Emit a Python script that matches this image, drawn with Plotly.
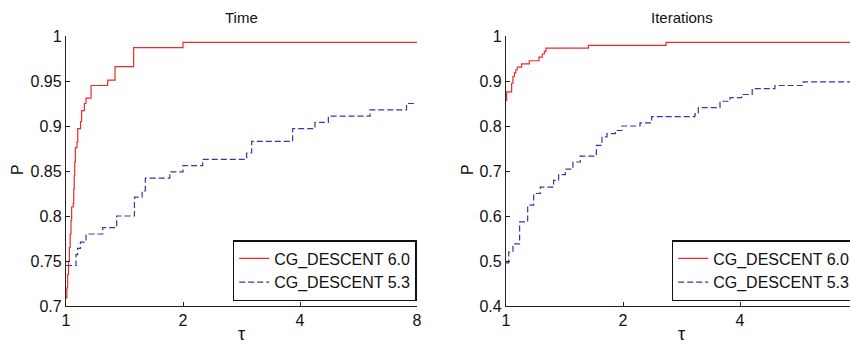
import math
import plotly.graph_objects as go

# ---- data ----
time_tau_60 = [1, 1.005, 1.01, 1.015, 1.02, 1.025, 1.03, 1.034, 1.044, 1.047, 1.05, 1.053, 1.057, 1.067,
               1.072, 1.09, 1.097, 1.115, 1.126, 1.16, 1.28, 1.337, 1.493, 2.0, 8]
time_p_60 = [0.709, 0.72, 0.735, 0.75, 0.765, 0.78, 0.795, 0.81, 0.814, 0.83, 0.845, 0.86, 0.876, 0.882,
             0.897, 0.905, 0.917, 0.925, 0.931, 0.945, 0.951, 0.966, 0.987, 0.993, 0.993]

time_tau_53 = [1, 1.061, 1.071, 1.089, 1.126, 1.243, 1.35, 1.50, 1.57, 1.60, 1.85, 2.0, 2.247, 2.916,
               3.004, 3.83, 4.371, 4.731, 6.056, 7.52, 8]
time_p_53 = [0.745, 0.757, 0.764, 0.771, 0.780, 0.787, 0.800, 0.821, 0.828, 0.842, 0.849, 0.856, 0.863,
             0.870, 0.883, 0.897, 0.904, 0.911, 0.918, 0.925, 0.925]

iter_tau_60 = [1, 1.004, 1.034, 1.042, 1.051, 1.06, 1.069, 1.097, 1.148, 1.216, 1.24, 1.255, 1.267,
               1.629, 2.581, 8]
iter_p_60 = [0.857, 0.876, 0.895, 0.91, 0.918, 0.925, 0.931, 0.938, 0.945, 0.953, 0.96, 0.966, 0.973,
             0.979, 0.986, 0.986]

iter_tau_53 = [1, 1.016, 1.042, 1.084, 1.137, 1.178, 1.225, 1.326, 1.366, 1.421, 1.487, 1.553, 1.708,
               1.766, 1.819, 1.911, 1.988, 2.212, 2.37, 3.063, 3.125, 3.553, 3.77, 4.04, 4.30, 4.92,
               5.82, 8]
iter_p_53 = [0.496, 0.52, 0.538, 0.587, 0.624, 0.65, 0.664, 0.679, 0.692, 0.704, 0.720, 0.733, 0.757,
             0.776, 0.783, 0.79, 0.80, 0.807, 0.821, 0.827, 0.841, 0.855, 0.863, 0.870, 0.883, 0.890,
             0.898, 0.898]

names = ["CG_DESCENT 6.0", "CG_DESCENT 5.3"]
titles = ["Time", "Iterations"]
x_ticks = [1, 2, 4, 8]

RED = "#f02828"
BLUE = "#2d3aa8"
FONT = "Liberation Sans, Arial, sans-serif"
W, H = 850, 343

fig = go.Figure()

def add(x, y, name, color, dash, xa, ya, legend):
    fig.add_trace(go.Scatter(x=x, y=y, name=name, mode="lines", line_shape="hv",
                             line=dict(color=color, width=1.2, dash=dash),
                             xaxis=xa, yaxis=ya, legend=legend))

add(time_tau_60, time_p_60, names[0], RED, "solid", "x", "y", "legend")
add(time_tau_53, time_p_53, names[1], BLUE, "6px,3px", "x", "y", "legend")
add(iter_tau_60, iter_p_60, names[0], RED, "solid", "x2", "y2", "legend2")
add(iter_tau_53, iter_p_53, names[1], BLUE, "6px,3px", "x2", "y2", "legend2")

# plot-area pixels
L1, R1 = 66, 417
L2 = 506
R2full = 506 + 351  # where tau = 8 would be
TOP, BOT = 36, 306

def px(v):
    return v / W

def py(v):
    return 1 - v / H

axis_common = dict(showline=True, linecolor="#222", linewidth=1.3, ticks="inside", ticklen=4,
                   tickcolor="#222", tickwidth=1, showgrid=False, zeroline=False,
                   tickfont=dict(family=FONT, size=16, color="#111"), mirror=False)

legend_common = dict(yanchor="bottom", xanchor="left", y=py(301),
                     bgcolor="white", bordercolor="#111", borderwidth=1.5,
                     font=dict(family=FONT, size=16, color="#111"), tracegroupgap=0)

fig.update_layout(
    width=W, height=H, margin=dict(l=0, r=0, t=0, b=0, autoexpand=False),
    paper_bgcolor="white", plot_bgcolor="white",
    xaxis=dict(domain=[px(L1), px(R1)], type="log", range=[0, math.log10(8)],
               tickvals=x_ticks, ticktext=[str(v) for v in x_ticks], anchor="y", **axis_common),
    yaxis=dict(domain=[py(BOT), py(TOP)], range=[0.7, 1.0], dtick=0.05, tick0=0.7, anchor="x",
               **axis_common),
    xaxis2=dict(domain=[px(L2), 1.0], type="log",
                range=[0, math.log10(2 ** ((W - L2) / 117.0))],
                tickvals=x_ticks, ticktext=[str(v) for v in x_ticks], anchor="y2", **axis_common),
    yaxis2=dict(domain=[py(BOT), py(TOP)], range=[0.4, 1.0], dtick=0.1, tick0=0.4, anchor="x2",
                **axis_common),
    legend=dict(x=px(232.7), **legend_common),
    legend2=dict(x=px(671.7), **legend_common),
    showlegend=True,
)

ann = []
for cx, t in [((L1 + R1) / 2, titles[0]), ((L2 + R2full) / 2, titles[1])]:
    ann.append(dict(x=px(cx), y=py(17), xref="paper", yref="paper", text=t, showarrow=False,
                    font=dict(family=FONT, size=15, color="#111"), xanchor="center", yanchor="middle"))
for cx in [(L1 + R1) / 2, (L2 + R2full) / 2]:
    ann.append(dict(x=px(cx), y=py(334), xref="paper", yref="paper", text="τ", showarrow=False,
                    font=dict(family=FONT, size=18, color="#111"), xanchor="center", yanchor="middle"))
for cx in [17, 467]:
    ann.append(dict(x=px(cx), y=py(170), xref="paper", yref="paper", text="P", showarrow=False,
                    textangle=-90, font=dict(family=FONT, size=16, color="#111"),
                    xanchor="center", yanchor="middle"))
fig.update_layout(annotations=ann)

fig.write_html("out.html")
